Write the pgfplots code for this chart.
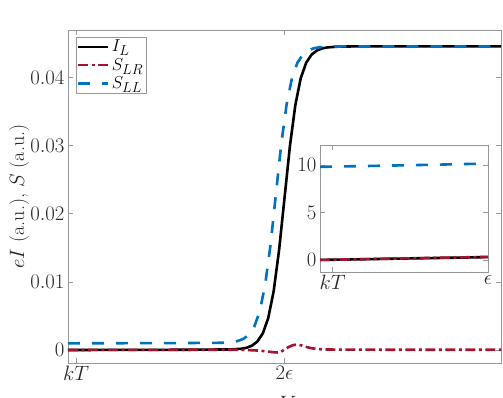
\documentclass[border=0pt]{standalone}
\usepackage{pgfplots}
\usepackage{pgfplotstable}
\pgfplotsset{compat=1.18}

\definecolor{mred}{RGB}{162,20,47}
\definecolor{mblue}{RGB}{0,114,189}
\definecolor{axgray}{RGB}{150,150,150}
\definecolor{txt}{RGB}{38,38,38}
\newcommand{\bigfont}{\fontsize{20}{24}\selectfont}

% main panel: x in units of epsilon (kT = 0.075)
\pgfplotstableread{
x      y
0      0
0.5    0.000015
1.0    0.00003
1.5    0.00008
1.6    0.00018
1.65   0.00033
1.7    0.00064
1.75   0.00126
1.8    0.00245
1.85   0.0047
1.9    0.00865
1.95   0.01468
2.0    0.0223
2.05   0.02994
2.1    0.03597
2.15   0.03992
2.2    0.04218
2.25   0.04338
2.3    0.04400
2.35   0.04430
2.4    0.04445
2.5    0.04456
2.7    0.0446
4.0    0.0446
}\IL

\pgfplotstableread{
x      y
0      0
0.5    0.000015
1.0    0.00003
1.5    0.00004
1.6    0.00002
1.7    -0.00004
1.75   -0.00008
1.8    -0.00015
1.85   -0.00024
1.9    -0.00033
1.94   -0.00037
1.97   -0.00025
2.0    0.00008
2.04   0.00045
2.08   0.00072
2.11   0.00078
2.15   0.0007
2.2    0.00045
2.25   0.00026
2.3    0.00014
2.4    0.00007
2.6    0.00005
3.0    0.00004
4.0    0.00004
}\SLR

\pgfplotstableread{
x      y
0      0.00098
0.5    0.000997
1.0    0.001015
1.42   0.00106
1.52   0.00117
1.57   0.00133
1.62   0.00163
1.67   0.00223
1.72   0.00340
1.77   0.00560
1.82   0.00945
1.87   0.01533
1.92   0.02280
1.97   0.03025
2.02   0.03614
2.07   0.04001
2.12   0.04222
2.17   0.04340
2.22   0.04401
2.27   0.04431
2.32   0.04446
2.42   0.04456
2.6    0.0446
4.0    0.0446
}\SLL

% inset: values in units of 1e-4
\pgfplotstableread{
x     il    slr    sll
0     0     0      9.80
0.25  0.07  0.08   9.88
0.5   0.15  0.16   9.96
0.75  0.22  0.24   10.05
1.0   0.30  0.32   10.15
}\inset

\pgfplotsset{
  mstyle/.style={
    scale only axis,
    axis line style={axgray, line width=0.8pt},
    tick style={axgray, line width=0.8pt},
    tick align=inside, major tick length=5pt,
    xtick pos=both, ytick pos=both,
    tick label style={font=\bigfont, text=txt},
    label style={font=\bigfont, text=txt},
    scaled ticks=false,
  },
  il/.style={black, line width=2.6pt},
  slr/.style={mred, line width=2.6pt, dash pattern=on 10pt off 3.5pt on 3pt off 3.5pt},
  sll/.style={mblue, line width=2.6pt, dash pattern=on 12pt off 12pt},
}

\begin{document}
\begin{tikzpicture}
\useasboundingbox (-68pt,-35pt) rectangle (435pt,363pt);
\begin{axis}[mstyle,
  at={(0pt,0pt)}, anchor=south west,
  width=433pt, height=333pt,
  xmin=0, xmax=4, ymin=-0.00191, ymax=0.0470,
  xtick={0.075,2}, xticklabels={$kT$,$2\epsilon$},
  ytick={0,0.01,0.02,0.03,0.04},
  yticklabels={$0$,$0.01$,$0.02$,$0.03$,$0.04$},
  xlabel={$V$},
  xlabel style={at={(axis description cs:0.508,0)}, anchor=north, yshift=-30pt},
  ylabel={$eI$ (a.u.), $S$ (a.u.)},
  ylabel style={at={(axis description cs:-0.113,0.5)}, anchor=center},
  legend style={at={(axis description cs:0,1)}, anchor=north west,
    xshift=8pt, yshift=-7pt, draw=axgray, fill=white,
    font=\fontsize{19}{21}\selectfont,
    inner sep=1pt, row sep=1pt, legend cell align=left},
  legend image code/.code={\draw[#1] (0pt,0pt) -- (30pt,0pt);},
]
\addplot[il] table[x=x,y=y] {\IL};
\addplot[slr] table[x=x,y=y] {\SLR};
\addplot[sll] table[x=x,y=y] {\SLL};
\legend{$I_L$,$S_{LR}$,$S_{LL}$}
\end{axis}

\begin{axis}[mstyle,
  at={(252pt,91pt)}, anchor=south west,
  width=168pt, height=127pt,
  xmin=0, xmax=1, ymin=-1.27, ymax=12.1,
  xtick={0.075,1}, xticklabels={$kT$,$\epsilon$},
  ytick={0,5,10}, yticklabels={$0$,$5$,$10$},
  axis background/.style={fill=white},
]
\addplot[il] table[x=x,y=il] {\inset};
\addplot[slr] table[x=x,y=slr] {\inset};
\addplot[sll] table[x=x,y=sll] {\inset};
\node[anchor=south west, font=\bigfont, text=txt, inner sep=0pt]
  at (rel axis cs:0,1) [yshift=3pt] {$\times 10^{-4}$};
\end{axis}
\end{tikzpicture}
\end{document}
